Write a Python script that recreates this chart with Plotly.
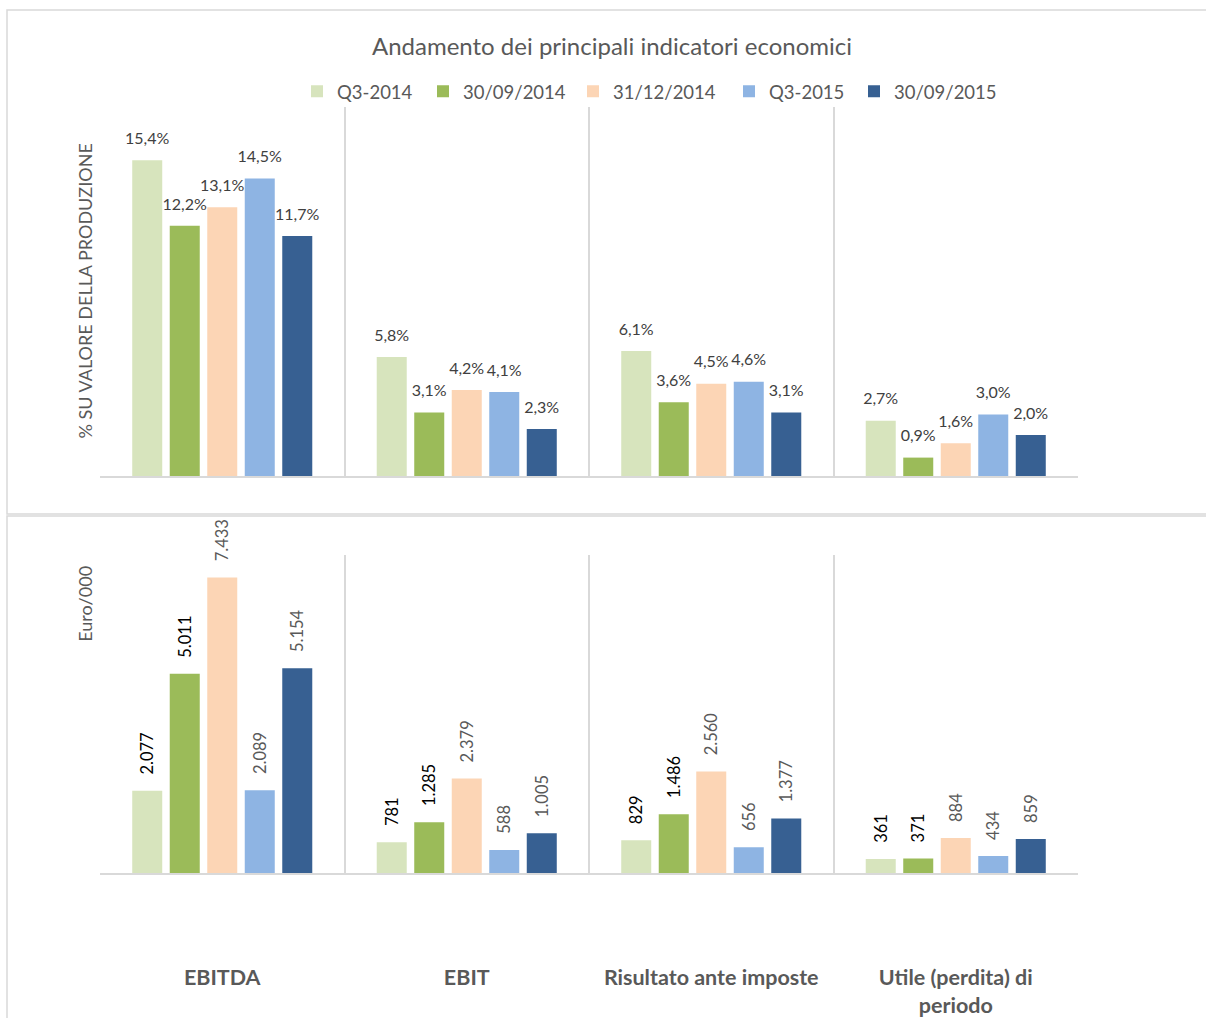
import plotly.graph_objects as go

W, H = 1206, 1018

categories = ["EBITDA", "EBIT", "Risultato ante imposte", "Utile (perdita) di periodo"]
category_labels = ["<b>EBITDA</b>", "<b>EBIT</b>", "<b>Risultato ante imposte</b>",
                   "<b>Utile (perdita) di</b><br><b>periodo</b>"]
series_names = ["Q3-2014", "30/09/2014", "31/12/2014", "Q3-2015", "30/09/2015"]
colors = ["#D7E4BD", "#9BBB59", "#FCD5B5", "#8EB4E3", "#376092"]
legend_widths = [81, 105, 111, 80, 125]

pct_values = {
    "Q3-2014":    [15.4, 5.8, 6.1, 2.7],
    "30/09/2014": [12.2, 3.1, 3.6, 0.9],
    "31/12/2014": [13.1, 4.2, 4.5, 1.6],
    "Q3-2015":    [14.5, 4.1, 4.6, 3.0],
    "30/09/2015": [11.7, 2.3, 3.1, 2.0],
}
eur_values = {
    "Q3-2014":    [2077, 781, 829, 361],
    "30/09/2014": [5011, 1285, 1486, 371],
    "31/12/2014": [7433, 2379, 2560, 884],
    "Q3-2015":    [2089, 588, 656, 434],
    "30/09/2015": [5154, 1005, 1377, 859],
}
eur_label_colors = ["#000000", "#000000", "#595959", "#595959", "#595959"]

# label gap above bars (in axis units) to mimic the spreadsheet label offset
PCT_LABEL_GAP = 0.5
EUR_LABEL_GAP = 330

FONT = "Lato"

fig = go.Figure()
for i, name in enumerate(series_names):
    vals = pct_values[name]
    fig.add_trace(go.Bar(
        x=categories, y=vals, name=name, offsetgroup=str(i),
        marker=dict(color=colors[i], line=dict(width=0)),
        xaxis="x", yaxis="y", showlegend=True, legendwidth=legend_widths[i],
        legendgroup=name,
    ))
    fig.add_trace(go.Bar(
        x=categories, y=[PCT_LABEL_GAP] * len(vals), base=vals, name=name,
        offsetgroup=str(i), marker=dict(color="rgba(0,0,0,0)", line=dict(width=0)),
        text=[f"{v:.1f}%".replace(".", ",") for v in vals],
        texttemplate="%{text}", textposition="outside", cliponaxis=False,
        constraintext="none", hoverinfo="skip",
        textfont=dict(family=FONT, size=16, color="#404040"),
        xaxis="x", yaxis="y", showlegend=False, legendgroup=name,
    ))
for i, name in enumerate(series_names):
    vals = eur_values[name]
    fig.add_trace(go.Bar(
        x=categories, y=vals, name=name, offsetgroup=str(i),
        marker=dict(color=colors[i], line=dict(width=0)),
        xaxis="x2", yaxis="y2", showlegend=False, legendgroup=name,
    ))
    fig.add_trace(go.Bar(
        x=categories, y=[EUR_LABEL_GAP] * len(vals), base=vals, name=name,
        offsetgroup=str(i), marker=dict(color="rgba(0,0,0,0)", line=dict(width=0)),
        text=[f"{v:,}".replace(",", ".") for v in vals],
        texttemplate="%{text}", textposition="outside", textangle=-90, cliponaxis=False,
        constraintext="none", hoverinfo="skip",
        textfont=dict(family=FONT, size=16.5, color=eur_label_colors[i]),
        xaxis="x2", yaxis="y2", showlegend=False, legendgroup=name,
    ))

def px_x(p):
    return p / W

def px_y(p):
    return 1 - p / H

xdom = [px_x(100), px_x(1078)]
axis_common = dict(
    domain=xdom, type="category", tickson="boundaries",
    showgrid=True, gridcolor="#D9D9D9", gridwidth=1.5,
    showline=True, linecolor="#D9D9D9", linewidth=1.5,
    ticks="", categoryorder="array", categoryarray=categories,
)

fig.update_layout(
    width=W, height=H,
    margin=dict(l=0, r=0, t=0, b=0),
    paper_bgcolor="white", plot_bgcolor="white",
    separators=",.",
    barmode="group", bargap=0.233, bargroupgap=0.2,
    font=dict(family=FONT, color="#595959"),
    title=dict(text="Andamento dei principali indicatori economici",
               x=612 / W, xanchor="center", y=px_y(47), yanchor="middle",
               font=dict(family=FONT, size=24, color="#595959")),
    legend=dict(orientation="h", x=px_x(297), xanchor="left", y=px_y(92), yanchor="middle",
                font=dict(family=FONT, size=18.5, color="#595959"),
                itemwidth=30, traceorder="normal", bgcolor="rgba(0,0,0,0)"),
    xaxis=dict(**axis_common, anchor="y", showticklabels=False),
    yaxis=dict(domain=[px_y(477), px_y(107)], range=[0, 18], visible=False, anchor="x"),
    xaxis2=dict(**axis_common, anchor="y2", showticklabels=True,
                tickvals=categories, ticktext=category_labels,
                tickfont=dict(family=FONT, size=21.5, color="#595959"),
                ticklabelstandoff=84),
    yaxis2=dict(domain=[px_y(875), px_y(556)], range=[0, 8000], visible=False, anchor="x2"),
    shapes=[
        dict(type="rect", xref="paper", yref="paper",
             x0=px_x(7), x1=1.02, y0=px_y(515), y1=px_y(10),
             line=dict(color="#D9D9D9", width=1.5), fillcolor="rgba(0,0,0,0)", layer="below"),
        dict(type="rect", xref="paper", yref="paper",
             x0=px_x(7), x1=1.02, y0=-0.02, y1=px_y(517),
             line=dict(color="#D9D9D9", width=1.5), fillcolor="rgba(0,0,0,0)", layer="below"),
    ],
    annotations=[
        dict(text="% SU VALORE DELLA PRODUZIONE", textangle=-90, xref="paper", yref="paper",
             x=px_x(85), y=px_y(292), xanchor="center", yanchor="middle", showarrow=False,
             font=dict(family=FONT, size=18, color="#595959")),
        dict(text="Euro/000", textangle=-90, xref="paper", yref="paper",
             x=px_x(85), y=px_y(605), xanchor="center", yanchor="middle", showarrow=False,
             font=dict(family=FONT, size=18, color="#595959")),
    ],
)

fig.write_html("out.html")
